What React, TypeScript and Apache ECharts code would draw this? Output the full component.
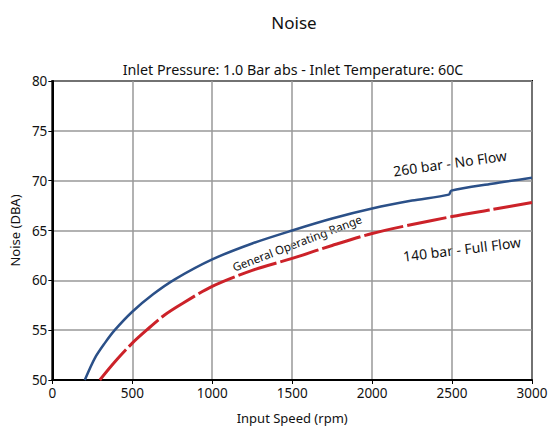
import React, { useEffect, useRef } from "react";
import * as echarts from "echarts";

const noFlowRpm = [203, 266, 328, 390, 500, 630, 766, 1000, 1250, 1500, 1750, 2000, 2250, 2480, 2495, 2750, 3000];
const noFlowDba = [50, 52.2, 53.7, 55.0, 56.85, 58.6, 60.1, 62.1, 63.7, 65.0, 66.2, 67.2, 68.0, 68.6, 69.0, 69.7, 70.3];
const fullFlowRpm = [297, 390, 500, 589, 700, 816, 1000, 1250, 1500, 1750, 2000, 2250, 2500, 2750, 3000];
const fullFlowDba = [50, 51.8, 53.7, 55.0, 56.5, 57.7, 59.4, 61.0, 62.2, 63.5, 64.7, 65.6, 66.4, 67.1, 67.8];

const FONT = "Noto Sans";

export default function App() {
  const ref = useRef<HTMLDivElement>(null);
  useEffect(() => {
    if (!ref.current) return;
    const chart = echarts.init(ref.current, undefined, { renderer: "svg" });
    chart.setOption({
      animation: false,
      backgroundColor: "#ffffff",
      textStyle: { fontFamily: FONT },
      title: [
        { text: "Noise", left: 289, top: 9, textAlign: "center", textStyle: { fontFamily: FONT, fontSize: 17, fontWeight: "normal", color: "#111" } },
        { text: "Inlet Pressure: 1.0 Bar abs - Inlet Temperature: 60C", left: 288, top: 57, textAlign: "center", textStyle: { fontFamily: FONT, fontSize: 14.3, fontWeight: "normal", color: "#111" } },
      ],
      grid: { left: 52, right: 20, top: 81, bottom: 46, show: true, borderColor: "#000", borderWidth: 2, backgroundColor: "transparent" },
      xAxis: {
        type: "value", min: 0, max: 3000, interval: 500,
        name: "Input Speed (rpm)", nameLocation: "middle", nameGap: 31,
        nameTextStyle: { fontFamily: FONT, fontSize: 13, color: "#111" },
        axisLine: { lineStyle: { color: "#000", width: 2 } },
        axisTick: { show: true, length: 4, lineStyle: { color: "#000" } },
        axisLabel: { fontFamily: FONT, fontSize: 13.5, color: "#111", margin: 6, formatter: (v: number) => String(v) },
        splitLine: { lineStyle: { color: "#999", width: 1.5 } },
      },
      yAxis: {
        type: "value", min: 50, max: 80, interval: 5,
        name: "Noise (DBA)", nameLocation: "middle", nameGap: 27,
        nameTextStyle: { fontFamily: FONT, fontSize: 13, color: "#111" },
        axisLine: { show: true, lineStyle: { color: "#000", width: 2 } },
        axisTick: { show: true, length: 4, lineStyle: { color: "#000" } },
        axisLabel: { fontFamily: FONT, fontSize: 13.5, color: "#111", margin: 5 },
        splitLine: { lineStyle: { color: "#999", width: 1.5 } },
      },
      series: [
        {
          name: "260 bar - No Flow", type: "line", smooth: 0.3, symbol: "none",
          data: noFlowRpm.map((x, i) => [x, noFlowDba[i]]),
          lineStyle: { color: "#2b5088", width: 2.5 },
        },
        {
          name: "140 bar - Full Flow", type: "line", smooth: 0.3, symbol: "none",
          data: fullFlowRpm.map((x, i) => [x, fullFlowDba[i]]),
          lineStyle: { color: "#cc2229", width: 3, type: [40, 4] },
        },
      ],
      graphic: [
        { type: "text", x: 450, y: 163, rotation: (8 * Math.PI) / 180, style: { text: "260 bar - No Flow", fontFamily: FONT, fontSize: 14, fill: "#111", align: "center", verticalAlign: "middle" } },
        { type: "text", x: 462, y: 249, rotation: (7 * Math.PI) / 180, style: { text: "140 bar - Full Flow", fontFamily: FONT, fontSize: 14, fill: "#111", align: "center", verticalAlign: "middle" } },
        { type: "text", x: 297, y: 243, rotation: (21 * Math.PI) / 180, style: { text: "General Operating Range", fontFamily: FONT, fontSize: 11.5, fill: "#111", align: "center", verticalAlign: "middle" } },
      ],
    });
    return () => chart.dispose();
  }, []);
  return <div ref={ref} style={{ position: "fixed", left: 0, top: 0, width: 552, height: 429 }} />;
}
